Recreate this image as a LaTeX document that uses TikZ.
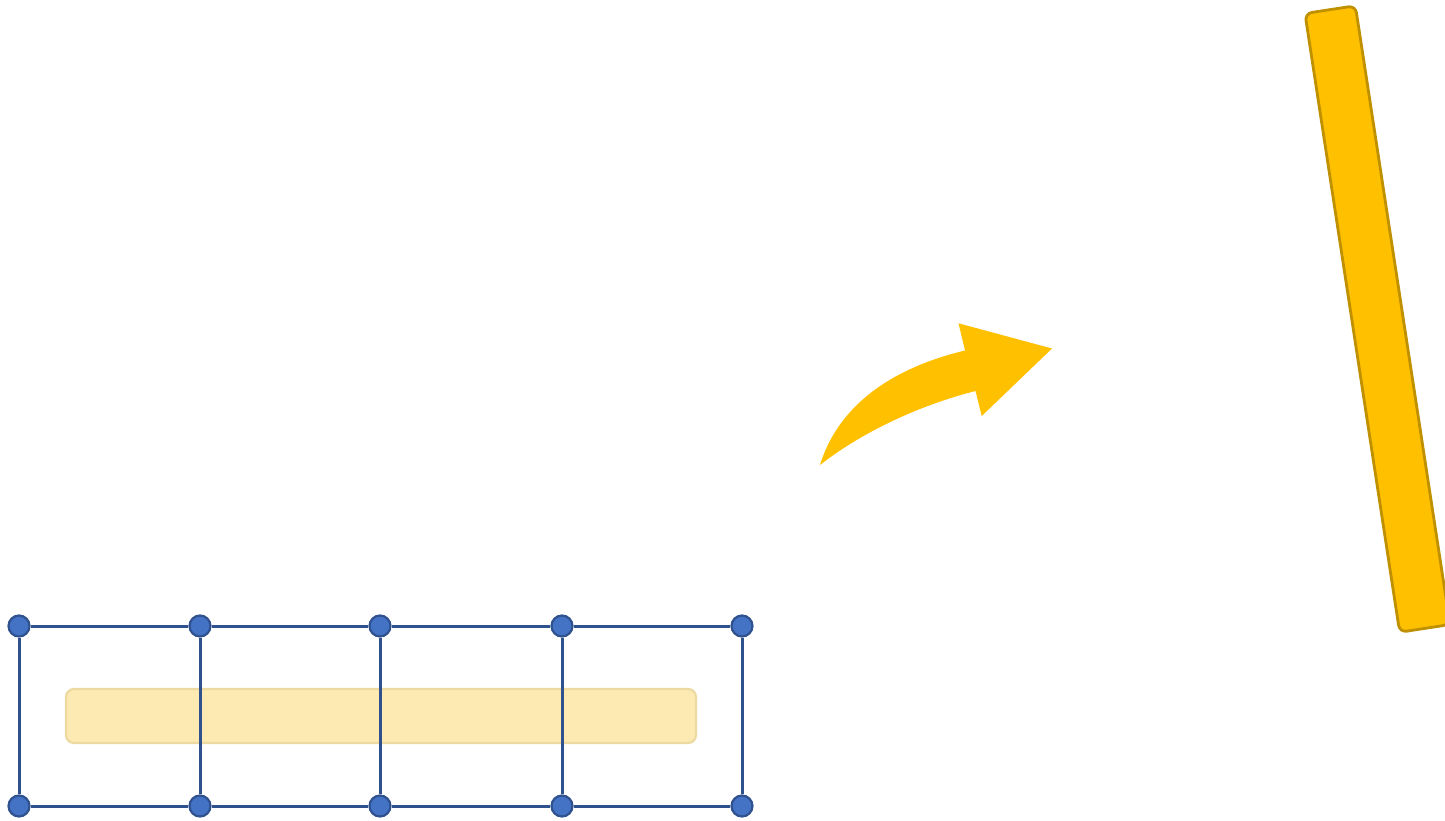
\documentclass[tikz,border=0pt]{standalone}
\definecolor{nodeblue}{HTML}{4472C4}
\definecolor{edgeblue}{HTML}{2F528F}
\definecolor{paleyellow}{RGB}{253,234,178}
\definecolor{paleborder}{RGB}{237,218,160}
\definecolor{gold}{HTML}{FFC000}
\definecolor{goldborder}{HTML}{BF9000}
\begin{document}
\begin{tikzpicture}[x=1pt,y=-1pt,
  vtx/.style={circle,draw=edgeblue,fill=nodeblue,line width=2.2pt,minimum size=21pt,inner sep=0pt},
  edge/.style={draw=edgeblue,line width=3pt},
  bandbox/.style={draw=paleborder,fill=paleyellow,line width=2.2pt,rounded corners=8pt,minimum width=630pt,minimum height=54pt,inner sep=0pt},
  barbox/.style={draw=goldborder,fill=gold,line width=2.8pt,rounded corners=7pt,minimum width=51pt,minimum height=626pt,inner sep=0pt}]
\useasboundingbox (0,0) rectangle (1445,820);
\clip (0,0) rectangle (1445,820);
% pale band
\node[bandbox] (band) at (381,716) {};
% grid nodes
\foreach \i/\x in {1/19,2/200,3/380,4/562,5/742}{
  \node[vtx] (t\i) at (\x,626) {};
  \node[vtx] (b\i) at (\x,806) {};
}
\foreach \i in {1,...,5}{ \draw[edge] (t\i) -- (b\i); }
\foreach \i/\j in {1/2,2/3,3/4,4/5}{
  \draw[edge] (t\i) -- (t\j);
  \draw[edge] (b\i) -- (b\j);
}
% curved arrow
\fill[gold] (820,465) .. controls (840,400) and (900,366) .. (965,350.5)
  -- (958.5,323.3) -- (1052,348.5) -- (981.7,416) -- (975.5,391)
  .. controls (920,405) and (862,432) .. (820,465) -- cycle;
% rotated bar
\node[barbox,rotate=8.7] (bar) at (1377.5,319) {};
\end{tikzpicture}
\end{document}
